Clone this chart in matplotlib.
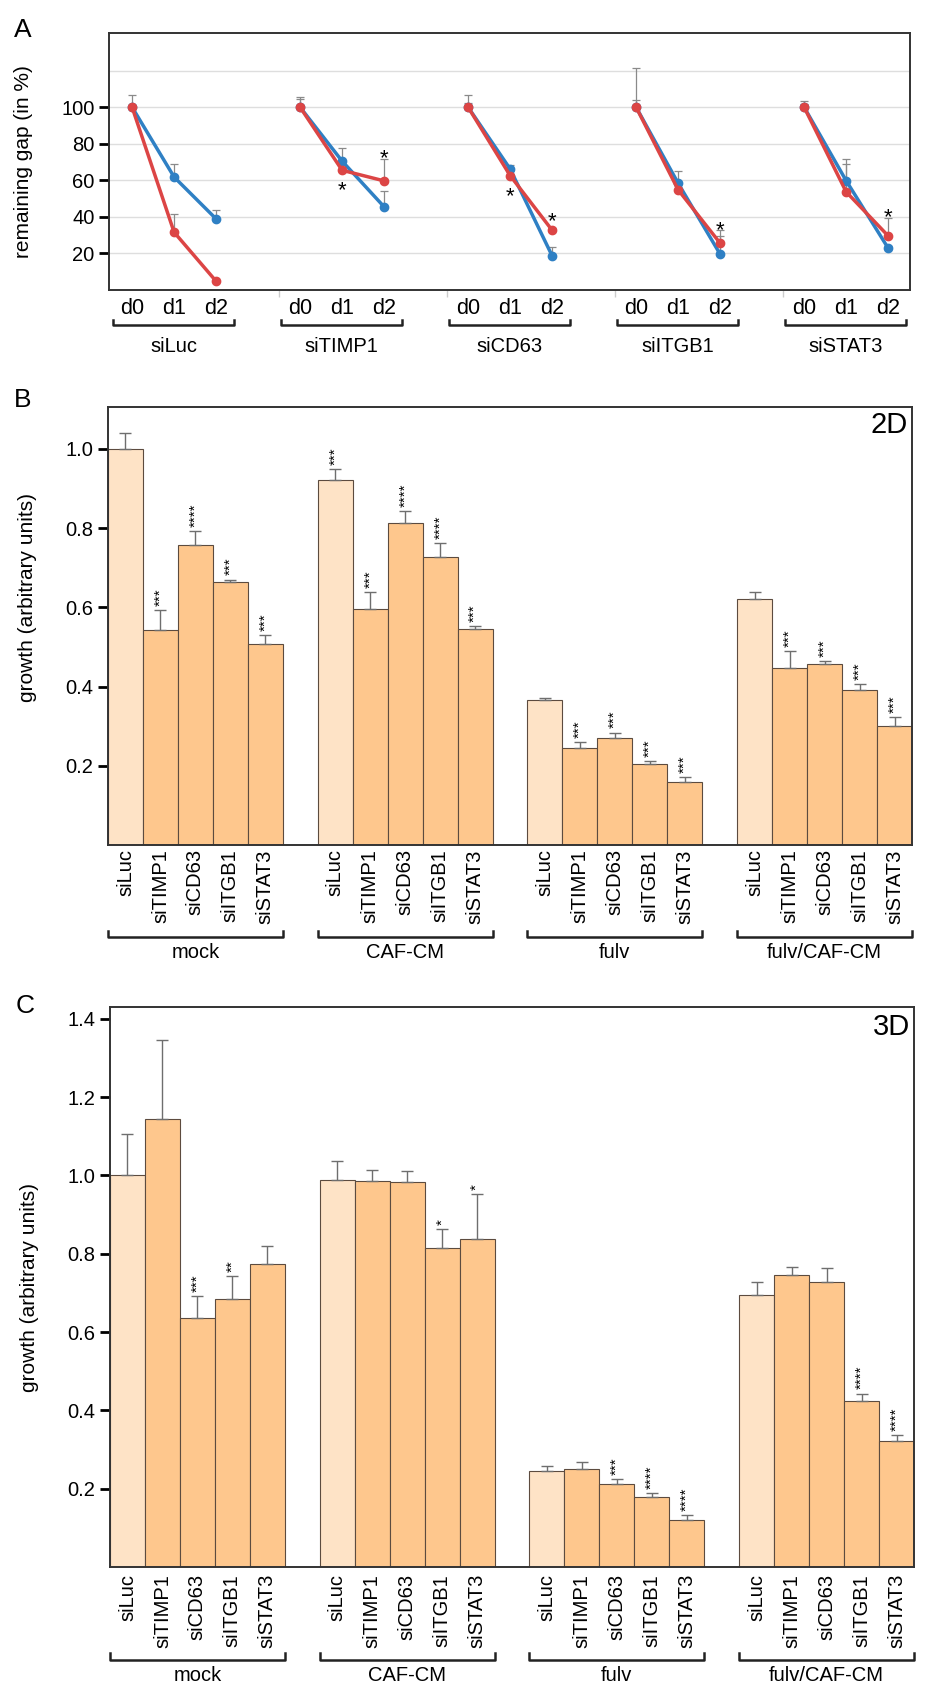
import numpy as np
import matplotlib.pyplot as plt
from matplotlib.transforms import blended_transform_factory

plt.rcParams['font.family'] = ['Liberation Sans', 'DejaVu Sans']

# ---- panel A: remaining gap over time
GROUPS_A = ['siLuc', 'siTIMP1', 'siCD63', 'siITGB1', 'siSTAT3']
DAYS = ['d0', 'd1', 'd2']
BLUE_GAP = [[100, 61.8, 38.9], [100, 70.5, 45.5], [100, 66.2, 18.7], [100, 58.4, 19.6], [100, 59.8, 22.9]]
BLUE_ERR = [[6.5, 6.9, 4.8], [5.6, 7.3, 8.9], [6.5, 2.2, 4.9], [21.5, 6.9, 10.2], [3.3, 11.8, 1.1]]
RED_GAP = [[100, 31.6, 4.8], [100, 65.5, 59.7], [100, 62.6, 32.7], [100, 54.8, 25.6], [100, 53.7, 29.6]]
RED_ERR = [[1.0, 10.0, 0.5], [4.5, 0.5, 11.9], [2.5, 2.4, 1.3], [3.8, 3.2, 7.1], [2.0, 15.0, 10.0]]
# (group, day, where)
STARS_A = [(1, 1, 'below'), (1, 2, 'above'), (2, 1, 'below'), (2, 2, 'above'), (3, 2, 'above'), (4, 2, 'above')]

# ---- panels B and C: growth
CONDITIONS = ['mock', 'CAF-CM', 'fulv', 'fulv/CAF-CM']
SIRNAS = ['siLuc', 'siTIMP1', 'siCD63', 'siITGB1', 'siSTAT3']

GROWTH_2D = [[1.0, 0.543, 0.758, 0.664, 0.508],
             [0.921, 0.597, 0.813, 0.727, 0.546],
             [0.367, 0.244, 0.271, 0.204, 0.160],
             [0.621, 0.446, 0.457, 0.391, 0.300]]
ERR_2D = [[0.040, 0.050, 0.035, 0.006, 0.022],
          [0.029, 0.041, 0.031, 0.035, 0.006],
          [0.005, 0.016, 0.013, 0.008, 0.012],
          [0.017, 0.044, 0.007, 0.015, 0.023]]
STARS_2D = [['', '***', '****', '***', '***'],
            ['***', '***', '****', '****', '***'],
            ['', '***', '***', '***', '***'],
            ['', '***', '***', '***', '***']]

GROWTH_3D = [[1.0, 1.145, 0.635, 0.685, 0.775],
             [0.988, 0.985, 0.983, 0.815, 0.838],
             [0.246, 0.249, 0.213, 0.179, 0.121],
             [0.694, 0.745, 0.729, 0.425, 0.321]]
ERR_3D = [[0.105, 0.201, 0.057, 0.057, 0.044],
          [0.049, 0.028, 0.027, 0.048, 0.115],
          [0.013, 0.020, 0.011, 0.010, 0.012],
          [0.035, 0.020, 0.034, 0.018, 0.015]]
STARS_3D = [['', '', '***', '**', ''],
            ['', '', '', '*', '*'],
            ['', '', '***', '****', '****'],
            ['', '', '', '****', '****']]

BLUE = '#2f80c4'
RED = '#dc4545'
LIGHT = '#fee3c6'
ORANGE = '#fec78d'
EDGE = '#5c4b3f'
SPINE = '#333333'

fig = plt.figure(figsize=(9.35, 16.94), dpi=100)


def style_spines(ax):
    for s in ax.spines.values():
        s.set_color(SPINE)
        s.set_linewidth(1.4)


# ================= A
axA = fig.add_axes([109/935, 1-290/1694, 801/935, 257/1694])
style_spines(axA)
for yg in [20, 40, 60, 80, 100, 120]:
    axA.axhline(yg, color='#dedede', lw=1, zorder=0)

xt, xl = [], []
for g in range(len(GROUPS_A)):
    xs = np.arange(3) + g*4
    xt += list(xs)
    xl += DAYS
    for vals, errs, col in [(BLUE_GAP[g], BLUE_ERR[g], BLUE), (RED_GAP[g], RED_ERR[g], RED)]:
        axA.errorbar(xs, vals, yerr=[np.zeros(3), errs], fmt='none', ecolor='#8a8a8a',
                     elinewidth=0.9, capsize=3, capthick=0.9, zorder=2)
        axA.plot(xs, vals, color=col, lw=2.5, marker='o', ms=6, zorder=3)

for g, d, where in STARS_A:
    x = g*4 + d
    if where == 'above':
        y = max(RED_GAP[g][d] + RED_ERR[g][d], RED_GAP[g][d] + 4.5)
        off = -4
    else:
        y = RED_GAP[g][d]
        off = -19
    axA.annotate('*', (x, y), xytext=(0, off), textcoords='offset points',
                 ha='center', va='baseline', fontsize=16)

axA.set_xlim(-0.55, 18.52)
axA.set_ylim(0, 140.6)
axA.set_yticks([20, 40, 60, 80, 100])
axA.tick_params(axis='y', length=7, width=2, labelsize=14.5)
axA.set_xticks(xt)
axA.set_xticklabels(xl)
axA.tick_params(axis='x', length=0, labelsize=15.5, pad=6)
axA.set_xticks([3.5, 7.5, 11.5, 15.5], minor=True)
axA.tick_params(axis='x', which='minor', length=5, width=1, color='#cccccc')
axA.set_ylabel('remaining gap (in %)', fontsize=15)
axA.yaxis.set_label_coords(-0.095, 0.5)

trA = blended_transform_factory(axA.transData, axA.transAxes)
for g, name in enumerate(GROUPS_A):
    x0, x1 = g*4 - 0.45, g*4 + 2.43
    axA.plot([x0, x0, x1, x1], [-0.117, -0.136, -0.136, -0.117], color='#222222', lw=1.8,
             transform=trA, clip_on=False)
    axA.text((x0+x1)/2, -0.218, name, ha='center', va='center', fontsize=14.5, transform=trA)


# ================= B, C
def bar_panel(rect, vals, errs, stars, ylim, yticks, tag, bracket_y, label_y, tick_pad, ylab_y):
    ax = fig.add_axes(rect)
    style_spines(ax)
    xs_all, names = [], []
    for g in range(len(CONDITIONS)):
        xs = np.arange(5) + g*6
        xs_all += list(xs)
        names += SIRNAS
        cols = [LIGHT] + [ORANGE]*4
        ax.bar(xs, vals[g], width=1.0, color=cols, edgecolor=EDGE, linewidth=0.8, zorder=2)
        ax.errorbar(xs, vals[g], yerr=[np.zeros(5), errs[g]], fmt='none', ecolor='#6e6e6e',
                    elinewidth=1, capsize=4, capthick=1, zorder=3)
        for i in range(5):
            if stars[g][i]:
                ax.annotate(stars[g][i], (xs[i], vals[g][i] + errs[g][i]), xytext=(0, 3),
                            textcoords='offset points', rotation=90, ha='center', va='bottom',
                            fontsize=11)
    ax.set_xlim(-0.5, 22.5)
    ax.set_ylim(*ylim)
    ax.set_yticks(yticks)
    ax.set_yticklabels(['%.1f' % t for t in yticks])
    ax.tick_params(axis='y', length=7, width=2, labelsize=14.5)
    ax.set_xticks(xs_all)
    ax.set_xticklabels(names, rotation=90, va='top')
    ax.tick_params(axis='x', length=0, labelsize=14.5, pad=tick_pad)
    ax.set_ylabel('growth (arbitrary units)', fontsize=15)
    ax.yaxis.set_label_coords(-0.088, ylab_y)
    ax.text(0.995, 0.99, tag, transform=ax.transAxes, ha='right', va='top', fontsize=21)

    tr = blended_transform_factory(ax.transData, ax.transAxes)
    for g, name in enumerate(CONDITIONS):
        x0, x1 = g*6 - 0.5, g*6 + 4.5
        ax.plot([x0, x0, x1, x1], [bracket_y + 0.013, bracket_y, bracket_y, bracket_y + 0.013],
                color='#222222', lw=1.8, transform=tr, clip_on=False)
        ax.text((x0+x1)/2, label_y, name, ha='center', va='center', fontsize=14.5, transform=tr)
    return ax


bar_panel([108/935, 1-845/1694, 804/935, 438/1694], GROWTH_2D, ERR_2D, STARS_2D,
          (0, 1.106), [0.2, 0.4, 0.6, 0.8, 1.0], '2D', -0.209, -0.246, 3, 0.564)
bar_panel([110/935, 1-1567/1694, 804/935, 560/1694], GROWTH_3D, ERR_3D, STARS_3D,
          (0, 1.43), [0.2, 0.4, 0.6, 0.8, 1.0, 1.2, 1.4], '3D', -0.166, -0.193, 5, 0.5)

fig.text(23/935, 1-30/1694, 'A', ha='center', va='center', fontsize=19)
fig.text(23/935, 1-400/1694, 'B', ha='center', va='center', fontsize=19)
fig.text(25/935, 1-1006/1694, 'C', ha='center', va='center', fontsize=19)

fig.savefig('out.png', dpi=100)
